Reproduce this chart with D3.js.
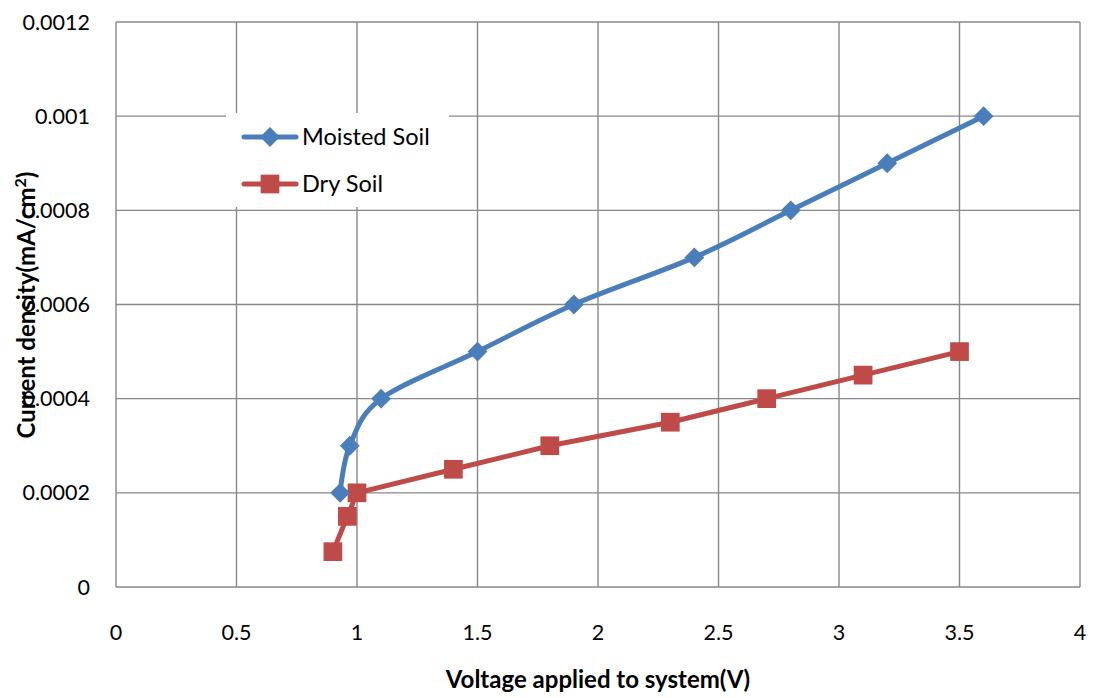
<!DOCTYPE html>
<html>
<head>
<meta charset="utf-8">
<script src="https://cdn.jsdelivr.net/npm/d3@7"></script>
<style>
  html, body { margin: 0; padding: 0; background: #fff; }
  svg { display: block; font-family: Lato, "Open Sans", sans-serif; }
</style>
</head>
<body>
<svg id="chart" width="1093" height="698"></svg>
<script>
// Current density vs applied voltage for two soil conditions
const moistVoltage = [0.93, 0.97, 1.1, 1.5, 1.9, 2.4, 2.8, 3.2, 3.6];
const moistCurrent = [0.0002, 0.0003, 0.0004, 0.0005, 0.0006, 0.0007, 0.0008, 0.0009, 0.001];
const dryVoltage = [0.9, 0.96, 1.0, 1.4, 1.8, 2.3, 2.7, 3.1, 3.5];
const dryCurrent = [0.000075, 0.00015, 0.0002, 0.00025, 0.0003, 0.00035, 0.0004, 0.00045, 0.0005];
const xTicks = [0, 0.5, 1, 1.5, 2, 2.5, 3, 3.5, 4];
const xTickLabels = ["0", "0.5", "1", "1.5", "2", "2.5", "3", "3.5", "4"];
const yTicks = [0, 0.0002, 0.0004, 0.0006, 0.0008, 0.001, 0.0012];
const yTickLabels = ["0", "0.0002", "0.0004", "0.0006", "0.0008", "0.001", "0.0012"];
const seriesNames = ["Moisted Soil", "Dry Soil"];

const blue = "#4a7ebb", red = "#be4b48", grid = "#888888";

const svg = d3.select("#chart");
const plot = { left: 116, right: 1080, top: 22, bottom: 587 };

const x = d3.scaleLinear().domain([0, 4]).range([plot.left, plot.right]);
const y = d3.scaleLinear().domain([0, 0.0012]).range([plot.bottom, plot.top]);

// Gridlines
const g = svg.append("g");
g.selectAll("line.v").data(xTicks).join("line")
  .attr("x1", d => x(d)).attr("x2", d => x(d))
  .attr("y1", plot.top).attr("y2", plot.bottom)
  .attr("stroke", grid).attr("stroke-width", 1.4);
g.selectAll("line.h").data(yTicks).join("line")
  .attr("x1", plot.left).attr("x2", plot.right)
  .attr("y1", d => y(d)).attr("y2", d => y(d))
  .attr("stroke", grid).attr("stroke-width", 1.4);

// Tick labels
svg.append("g").selectAll("text").data(yTicks).join("text")
  .attr("x", 90).attr("y", d => y(d)).attr("dy", "0.35em")
  .attr("text-anchor", "end").attr("font-size", 21.5).attr("fill", "#000")
  .text((d, i) => yTickLabels[i]);
svg.append("g").selectAll("text").data(xTicks).join("text")
  .attr("x", d => x(d)).attr("y", 632).attr("dy", "0.35em")
  .attr("text-anchor", "middle").attr("font-size", 21.5).attr("fill", "#000")
  .text((d, i) => xTickLabels[i]);

// Axis titles
svg.append("text")
  .attr("x", 598).attr("y", 680).attr("dy", "0.35em")
  .attr("text-anchor", "middle").attr("font-size", 24).attr("font-weight", "bold")
  .text("Voltage applied to system(V)");
const yt = svg.append("text")
  .attr("transform", "translate(27,305) rotate(-90)")
  .attr("dy", "0.35em")
  .attr("text-anchor", "middle").attr("font-size", 24).attr("font-weight", "bold");
yt.append("tspan").text("Current density(mA/cm");
yt.append("tspan").attr("baseline-shift", "super").attr("font-size", 16).text("2");
yt.append("tspan").text(")");

// Series lines
const moist = moistVoltage.map((v, i) => [v, moistCurrent[i]]);
const dry = dryVoltage.map((v, i) => [v, dryCurrent[i]]);

const smoothLine = d3.line().x(d => x(d[0])).y(d => y(d[1])).curve(d3.curveCatmullRom.alpha(0));
const straightLine = d3.line().x(d => x(d[0])).y(d => y(d[1]));

svg.append("path").datum(dry).attr("d", straightLine)
  .attr("fill", "none").attr("stroke", red).attr("stroke-width", 5)
  .attr("stroke-linejoin", "round").attr("stroke-linecap", "round");
svg.append("path").datum(moist).attr("d", smoothLine)
  .attr("fill", "none").attr("stroke", blue).attr("stroke-width", 5)
  .attr("stroke-linejoin", "round").attr("stroke-linecap", "round");

const diamond = d3.symbol().type(d3.symbolDiamond2).size(250);
const square = d3.symbol().type(d3.symbolSquare).size(350);

svg.append("g").selectAll("path").data(dry).join("path")
  .attr("transform", d => `translate(${x(d[0])},${y(d[1])})`)
  .attr("d", square).attr("fill", red);
svg.append("g").selectAll("path").data(moist).join("path")
  .attr("transform", d => `translate(${x(d[0])},${y(d[1])})`)
  .attr("d", diamond).attr("fill", blue);

// Legend
const legend = svg.append("g");
legend.append("rect").attr("x", 226).attr("y", 113).attr("width", 223).attr("height", 94).attr("fill", "#fff");
const items = [
  { name: seriesNames[0], color: blue, sym: diamond, y: 137 },
  { name: seriesNames[1], color: red, sym: square, y: 184 }
];
items.forEach(it => {
  legend.append("line").attr("x1", 244).attr("x2", 296).attr("y1", it.y).attr("y2", it.y)
    .attr("stroke", it.color).attr("stroke-width", 5).attr("stroke-linecap", "round");
  legend.append("path").attr("transform", `translate(270,${it.y})`).attr("d", it.sym).attr("fill", it.color);
  legend.append("text").attr("x", 302).attr("y", it.y).attr("dy", "0.35em")
    .attr("font-size", 23.5).attr("fill", "#000").text(it.name);
});
</script>
</body>
</html>
